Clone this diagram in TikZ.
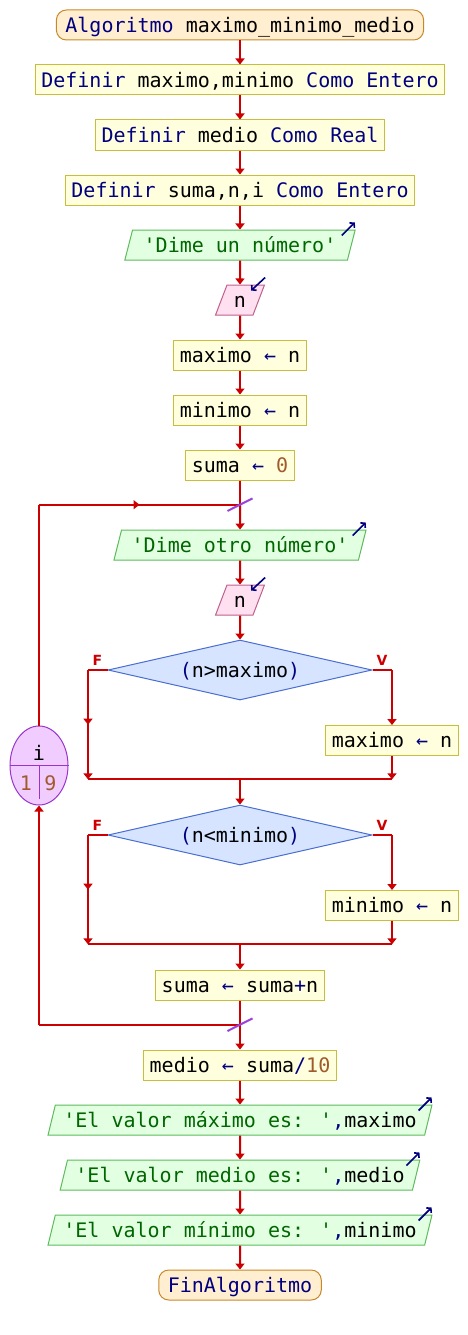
\documentclass[tikz,border=0pt]{standalone}
\usepackage{fontspec}
\usetikzlibrary{shapes.geometric,arrows.meta,decorations.markings,calc}
\newfontfamily\flowfont{DejaVu Sans Mono}
\newfontfamily\lblfont{DejaVu Sans}

\definecolor{kwcol}{HTML}{000080}
\definecolor{strcol}{HTML}{006600}
\definecolor{numcol}{HTML}{A05A2C}
\definecolor{linered}{HTML}{CC0000}
\definecolor{procfill}{HTML}{FFFFDD}
\definecolor{procline}{HTML}{C8BE3C}
\definecolor{termfill}{HTML}{FFEFD0}
\definecolor{termline}{HTML}{C8882A}
\definecolor{outfill}{HTML}{E2FFE2}
\definecolor{outline}{HTML}{5DBB5D}
\definecolor{infill}{HTML}{FFE0F0}
\definecolor{inline}{HTML}{C0608C}
\definecolor{decfill}{HTML}{D6E4FF}
\definecolor{decline}{HTML}{4A6ED0}
\definecolor{loopfill}{HTML}{F0CCFF}
\definecolor{loopline}{HTML}{9933CC}
\definecolor{slashcol}{HTML}{9940DD}

\newcommand\kw[1]{\textcolor{kwcol}{#1}}
\newcommand\strg[1]{\textcolor{strcol}{#1}}
\newcommand\nmb[1]{\textcolor{numcol}{#1}}

\tikzset{
  codefont/.style={font=\flowfont\fontsize{20}{24}\selectfont, text height=17pt, text depth=2.4pt},
  connline/.style={draw=linered, line width=2pt},
  connarrow/.style={-{Triangle[width=9pt,length=6pt]}},
  midarr/.style={postaction={decorate}, decoration={markings,
      mark=at position 0.5 with {\arrow{Triangle[width=9pt,length=6pt]}}}},
  procbox/.style={codefont, draw=procline, fill=procfill, line width=1pt,
      minimum height=30pt, inner xsep=6pt, inner ysep=0pt},
  termbox/.style={codefont, draw=termline, fill=termfill, line width=1pt,
      rounded corners=10pt, minimum height=30pt, inner xsep=9pt, inner ysep=0pt},
  outbox/.style={codefont, trapezium, trapezium left angle=70, trapezium right angle=110,
      trapezium stretches=true, draw=outline, fill=outfill, line width=1pt,
      minimum height=30pt, inner xsep=2pt, inner ysep=0pt},
  inbox/.style={outbox, draw=inline, fill=infill},
  decbox/.style={codefont, diamond, aspect=4.4, draw=decline, fill=decfill, line width=1pt,
      minimum width=264pt, minimum height=60pt, inner sep=0pt},
  iconarr/.style={draw=kwcol, line width=1.6pt, -{Straight Barb[length=3pt,width=7pt]}},
  slashmark/.style={draw=slashcol, line width=2pt},
  fvlabel/.style={font=\lblfont\bfseries\fontsize{14}{16}\selectfont, text=linered, inner sep=0pt},
  plain/.style={codefont, inner sep=0pt}
}

\begin{document}
\begin{tikzpicture}[x=1pt,y=-1pt]
\useasboundingbox (0,0) rectangle (468,1335);
\fill[white] (0,0) rectangle (468,1335);

% ---- nodes of the main column ----
\node[termbox] (start) at (240,25) {\kw{Algoritmo} maximo\_minimo\_medio};
\node[procbox] (def1) at (240,80) {\kw{Definir} maximo,minimo \kw{Como Entero}};
\node[procbox] (def2) at (240,135) {\kw{Definir} medio \kw{Como Real}};
\node[procbox] (def3) at (240,190) {\kw{Definir} suma,n,i \kw{Como Entero}};
\node[outbox, minimum width=231pt] (out1) at (240,245) {\strg{'Dime un número'}};
\node[inbox, minimum width=49pt] (in1) at (240,300) {n};
\node[procbox] (amax) at (240,355) {maximo \kw{←} n};
\node[procbox] (amin) at (240,410) {minimo \kw{←} n};
\node[procbox] (asum) at (240,465) {suma \kw{←} \nmb{0}};
\coordinate (jtop) at (240,504.7);
\node[outbox, minimum width=253pt] (out2) at (240,545) {\strg{'Dime otro número'}};
\node[inbox, minimum width=49pt] (in2) at (240,600) {n};

% first decision
\node[decbox] (cmax) at (240,670) {\kw{(}n>maximo\kw{)}};
\coordinate (cmaxl) at (88,670);
\coordinate (cmaxr) at (392,670);
\node[procbox] (smax) at (392,740.5) {maximo \kw{←} n};
\coordinate (mrgl1) at (88,779.3);
\coordinate (mrgr1) at (392,779.3);
\coordinate (mrgc1) at (240,779.3);
\node[fvlabel] (f1) at (97.5,660) {F};
\node[fvlabel] (v1) at (382,660) {V};

% second decision
\node[decbox] (cmin) at (240,835) {\kw{(}n<minimo\kw{)}};
\coordinate (cminl) at (88,835);
\coordinate (cminr) at (392,835);
\node[procbox] (smin) at (392,905.5) {minimo \kw{←} n};
\coordinate (mrgl2) at (88,944.3);
\coordinate (mrgr2) at (392,944.3);
\coordinate (mrgc2) at (240,944.3);
\node[fvlabel] (f2) at (97.5,825) {F};
\node[fvlabel] (v2) at (382,825) {V};

\node[procbox] (acc) at (240,985) {suma \kw{←} suma\kw{+}n};
\coordinate (jbot) at (240,1024.7);
\node[procbox] (avg) at (240,1065) {medio \kw{←} suma\kw{/}\nmb{10}};
\node[outbox, minimum width=385pt] (out3) at (240,1120) {\strg{'El valor máximo es: '}\kw{,}maximo};
\node[outbox, minimum width=361pt] (out4) at (240,1175) {\strg{'El valor medio es: '}\kw{,}medio};
\node[outbox, minimum width=385pt] (out5) at (240,1230) {\strg{'El valor mínimo es: '}\kw{,}minimo};
\node[termbox] (finish) at (240,1285) {\kw{FinAlgoritmo}};

% ---- loop counter ----
\node[ellipse, draw=loopline, fill=loopfill, line width=1pt, minimum width=58pt,
      minimum height=79pt, inner sep=0pt] (loop) at (39,765.5) {};
\draw[draw=loopline, line width=1pt] (loop.west) -- (loop.east);
\draw[draw=loopline, line width=1pt] (loop.center) -- ($(loop.center)+(0,33.5)$);
\node[plain] (lvar) at (39,752.7) {i};
\node[plain] (lfrom) at (26,782.7) {\nmb{1}};
\node[plain] (lto) at (50.5,782.7) {\nmb{9}};
\coordinate (ltop) at (39,504.7);
\coordinate (lbot) at (39,1024.7);

% ---- connectors ----
\draw[connline, connarrow] (start) -- (def1);
\draw[connline, connarrow] (def1) -- (def2);
\draw[connline, connarrow] (def2) -- (def3);
\draw[connline, connarrow] (def3) -- (out1);
\draw[connline, connarrow] (out1) -- (in1);
\draw[connline, connarrow] (in1) -- (amax);
\draw[connline, connarrow] (amax) -- (amin);
\draw[connline, connarrow] (amin) -- (asum);
\draw[connline] (asum) -- (jtop);
\draw[connline, connarrow] (jtop) -- (out2);
\draw[connline, connarrow] (out2) -- (in2);
\draw[connline, connarrow] (in2) -- (cmax);

\draw[connline] (cmax.west) -- (cmaxl);
\draw[connline, connarrow, midarr] (cmaxl) -- (mrgl1);
\draw[connline] (cmax.east) -- (cmaxr);
\draw[connline, connarrow] (cmaxr) -- (smax);
\draw[connline, connarrow] (smax) -- (mrgr1);
\draw[connline] (mrgl1) -- (mrgr1);
\draw[connline, connarrow] (mrgc1) -- (cmin);

\draw[connline] (cmin.west) -- (cminl);
\draw[connline, connarrow, midarr] (cminl) -- (mrgl2);
\draw[connline] (cmin.east) -- (cminr);
\draw[connline, connarrow] (cminr) -- (smin);
\draw[connline, connarrow] (smin) -- (mrgr2);
\draw[connline] (mrgl2) -- (mrgr2);
\draw[connline, connarrow] (mrgc2) -- (acc);

\draw[connline] (acc) -- (jbot);
\draw[connline, connarrow] (jbot) -- (avg);
\draw[connline] (jbot) -- (lbot);
\draw[connline, connarrow] (lbot) -- (loop.south);
\draw[connline] (loop.north) -- (ltop);
\draw[connline, midarr] (ltop) -- (jtop);

\draw[connline, connarrow] (avg) -- (out3);
\draw[connline, connarrow] (out3) -- (out4);
\draw[connline, connarrow] (out4) -- (out5);
\draw[connline, connarrow] (out5) -- (finish);

% loop marks on the main column
\draw[slashmark] ($(jtop)+(-12.5,6.3)$) -- ($(jtop)+(12.5,-6.3)$);
\draw[slashmark] ($(jbot)+(-12.5,6.3)$) -- ($(jbot)+(12.5,-6.3)$);

% output / input markers
\foreach \o in {out1,out2,out3,out4,out5}
  \draw[iconarr] ($(\o.top right corner)+(-14,6)$) -- ($(\o.top right corner)+(-1,-7)$);
\foreach \i in {in1,in2}
  \draw[iconarr] ($(\i.top right corner)+(0,-7)$) -- ($(\i.top right corner)+(-14,6)$);
\end{tikzpicture}
\end{document}
